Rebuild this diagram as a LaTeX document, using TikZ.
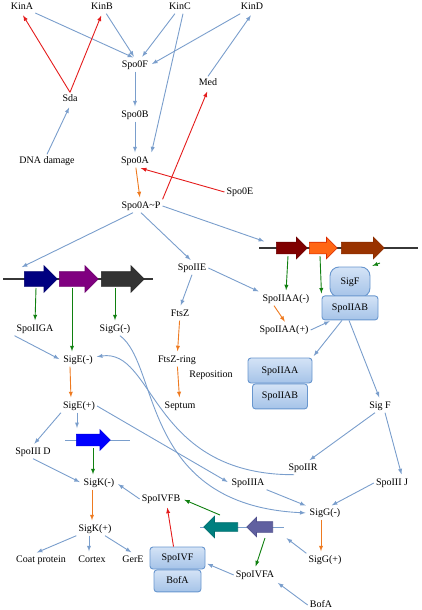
\documentclass[tikz,border=0pt]{standalone}
\usepackage{fontspec}
\setmainfont{Liberation Serif}
\usetikzlibrary{arrows,positioning,shapes.arrows}

\definecolor{pblue}{RGB}{122,158,204}
\definecolor{pgreen}{RGB}{16,128,16}
\definecolor{porange}{RGB}{238,122,32}
\definecolor{pred}{RGB}{228,28,28}
\definecolor{bline}{RGB}{104,150,206}
\definecolor{btop}{RGB}{212,227,246}
\definecolor{bbot}{RGB}{165,195,232}
\definecolor{dnaline}{RGB}{55,55,55}

\begin{document}
\begin{tikzpicture}[>=latex, shorten >=2pt, x=1pt, y=-1pt,
  lab/.style={inner sep=2pt, text height=7pt, text depth=2pt, font=\fontsize{10}{12}\selectfont},
  prot/.style={lab, draw=bline, line width=0.9pt, top color=btop, bottom color=bbot, rounded corners=3pt, inner sep=0pt},
  gene/.style={single arrow, single arrow head extend=5pt, inner xsep=0pt, inner ysep=5.5pt, minimum width=0pt, anchor=tail, line width=0.6pt},
  act/.style={->, color=pblue, line width=0.9pt},
  expr/.style={->, color=pgreen, line width=0.9pt},
  conv/.style={->, color=porange, line width=0.9pt},
  inhib/.style={->, color=pred, line width=0.9pt},
  strand/.style={draw=dnaline, line width=1.2pt}]
\useasboundingbox (0,0) rectangle (422,610);

% phosphorelay
\node[lab] (kinA)  at (22,7)    {KinA};
\node[lab] (kinB)  at (102,7)   {KinB};
\node[lab] (kinC)  at (180,7)   {KinC};
\node[lab] (kinD)  at (252,7)   {KinD};
\node[lab] (spoF)  at (135,65)  {Spo0F};
\node[lab] (sda)   at (70,99)   {Sda};
\node[lab] (med)   at (208,83)  {Med};
\node[lab] (spoB)  at (135,115) {Spo0B};
\node[lab] (dna)   at (47,161)  {DNA damage};
\node[lab] (spoA)  at (135,161) {Spo0A};
\node[lab] (spoE)  at (240,192) {Spo0E};
\node[lab] (spoAP) at (141,206) {Spo0A\textasciitilde P};

% operons
\draw[strand] (259,248) -- (420,248);
\node[gene, minimum height=31pt, fill={rgb,255:red,128;green,0;blue,0}, draw={rgb,255:red,110;green,0;blue,0}] (gR1) at (276,248) {};
\node[gene, minimum height=28pt, fill={rgb,255:red,255;green,102;blue,20}, draw={rgb,255:red,215;green,40;blue,0}] (gR2) at (309,248) {};
\node[gene, minimum height=43pt, fill={rgb,255:red,153;green,51;blue,0}, draw={rgb,255:red,140;green,45;blue,0}] (gR3) at (341,248) {};
\draw[strand] (3,279) -- (155,279);
\node[gene, minimum height=33pt, inner ysep=7pt, single arrow head extend=6pt, fill={rgb,255:red,0;green,0;blue,128}, draw={rgb,255:red,0;green,0;blue,110}] (gL1) at (24,279) {};
\node[gene, minimum height=39pt, inner ysep=7pt, single arrow head extend=6pt, fill={rgb,255:red,128;green,0;blue,128}, draw={rgb,255:red,110;green,0;blue,110}] (gL2) at (59,279) {};
\node[gene, minimum height=43pt, inner ysep=7pt, single arrow head extend=6pt, fill={rgb,255:red,51;green,51;blue,51}, draw={rgb,255:red,40;green,40;blue,40}] (gL3) at (101,279) {};

% middle
\node[lab] (iiE)   at (192,268) {SpoIIE};
\node[lab] (ftsZ)  at (180,314) {FtsZ};
\node[lab] (ring)  at (177,360) {FtsZ-ring};
\node[lab] (repo)  at (211,375) {Reposition};
\node[lab] (sept)  at (180,406) {Septum};
\node[lab] (aaM)   at (286,299) {SpoIIAA(-)};
\node[lab] (aaP)   at (284,330) {SpoIIAA(+)};
\node[prot, rounded corners=9pt, minimum width=40pt, minimum height=30pt] (fBox) at (350,282) {SigF};
\node[prot, minimum width=56pt, minimum height=24pt] (abBox) [below=-2pt of fBox] {SpoIIAB};
\node[prot, minimum width=64pt, minimum height=25pt] (aaLow) at (280,370.5) {SpoIIAA};
\node[prot, minimum width=55pt, minimum height=25pt] (abLow) [below=0pt of aaLow] {SpoIIAB};
\node[lab] (sigF)  at (380,406) {Sig F};
\node[lab] (iiGA)  at (35,329)  {SpoIIGA};
\node[lab] (gGm)   at (115,329) {SigG(-)};
\node[lab] (eM)    at (78,360)  {SigE(-)};
\node[lab] (eP)    at (79,406)  {SigE(+)};

% lower part
\draw[draw=pblue, line width=1pt] (65,440) -- (132,440);
\node[gene, minimum height=34pt, single arrow head extend=4.5pt, fill={rgb,255:red,0;green,0;blue,255}, draw={rgb,255:red,0;green,0;blue,230}] (gB) at (76,440) {};
\draw[draw=pblue, line width=1pt] (200,527) -- (286,527);
\node[gene, shape border rotate=180, minimum height=34pt, inner ysep=4pt, single arrow head extend=6.5pt, fill={rgb,255:red,0;green,128;blue,128}, draw={rgb,255:red,0;green,110;blue,110}] (gT) at (238,527) {};
\node[gene, shape border rotate=180, minimum height=26pt, inner ysep=5pt, single arrow head extend=4.5pt, fill={rgb,255:red,96;green,96;blue,160}, draw={rgb,255:red,80;green,80;blue,140}] (gS) at (273,527) {};
\node[lab] (iiiD)  at (33,452)  {SpoIII D};
\node[lab] (kM)    at (99,483)  {SigK(-)};
\node[lab] (ivfb)  at (161,499) {SpoIVFB};
\node[lab] (kP)    at (95,529)  {SigK(+)};
\node[lab] (coat)  at (41,560)  {Coat protein};
\node[lab] (cortex) at (92,560) {Cortex};
\node[lab] (gerE)  at (133,560) {GerE};
\node[prot, minimum width=55pt, minimum height=22pt] (ivfBox) at (177.5,558) {SpoIVF};
\node[prot, minimum width=47pt, minimum height=22pt] (bofBox) [below=0pt of ivfBox] {BofA};
\node[lab] (iiiA)  at (248,483) {SpoIIIA};
\node[lab] (iiR)   at (303,468) {SpoIIR};
\node[lab] (iiiJ)  at (392,483) {SpoIII J};
\node[lab] (gGb)   at (325,513) {SigG(-)};
\node[lab] (gP)    at (325,560) {SigG(+)};
\node[lab] (ivfa)  at (255,575) {SpoIVFA};
\node[lab] (bofA)  at (321,605) {BofA};

% activation
\path[act] (kinA) edge (spoF.north)
           (kinB) edge (spoF.north)
           (kinC) edge ([xshift=6pt]spoF.north)
           (kinD) edge (spoF.east)
           ([xshift=3pt]kinC.south) edge (spoA.north east)
           (dna.north) edge (sda.south)
           (spoF) edge (spoB)
           (spoB) edge (spoA)
           (med.north) edge (kinD.south)
           (spoAP.east) edge ([shift={(-10pt,6pt)}]gR1.tail)
           ([xshift=-8pt]spoAP.south) edge ([shift={(-4pt,11pt)}]gL1.tail)
           (spoAP.south) edge (iiE.north)
           (iiE.east) edge (aaM.north west)
           (iiE.south) edge (ftsZ.north)
           (aaP.east) edge ([xshift=10pt]abBox.south west)
           ([xshift=-8pt]abBox.south) edge (aaLow.north east)
           ([xshift=-1pt]abBox.south) edge (sigF.north)
           (iiGA.south west) edge (eM.west)
           (eP.south west) edge (iiiD.north)
           ([xshift=-2pt]eP.south) edge ([shift={(1pt,10pt)}]gB.tail)
           (eP.east) edge (iiiA.west)
           (iiiD.south) edge (kM.west)
           (ivfb.west) edge (kM.east)
           (kP.south west) edge ([xshift=-6pt]coat.north)
           ([xshift=-6pt]kP.south) edge ([xshift=-3pt]cortex.north)
           ([xshift=10pt]kP.south) edge (gerE.north)
           ([xshift=-5pt]sigF.south) edge ([xshift=5pt]iiR.north)
           ([xshift=5pt]sigF.south) edge ([xshift=10pt]iiiJ.north)
           (iiiA.south east) edge (gGb.north west)
           (iiiJ.west) edge ([xshift=5pt]gGb.north)
           (gP.north west) edge ([shift={(12pt,-10pt)}]gS.tail)
           (ivfa.west) edge ([yshift=-5pt]ivfBox.east)
           (bofA.west) edge (ivfa.south east);
\draw[act] ([xshift=5pt]gGm.south) .. controls (160,365) and (140,505) .. (gGb.west);
\draw[act] ([xshift=-9pt]iiR.south) .. controls (150,475) and (155,348) .. ([yshift=3pt]eM.east);

% inhibition
\path[inhib] (sda.north) edge (kinA.south)
             (sda.north) edge (kinB.south)
             (spoE.west) edge ([xshift=4pt]spoA.south)
             (spoAP.north east) edge (med.south)
             ([xshift=-4pt]ivfBox.north) edge ([xshift=6pt]ivfb.south);

% conversion
\path[conv] (spoA) edge (spoAP)
            ([xshift=-12pt]aaM.south) edge ([xshift=2pt]aaP.north)
            (ftsZ) edge (ring)
            (ring) edge (sept)
            ([xshift=-8pt]eM.south) edge ([xshift=-8pt]eP.north)
            ([xshift=-7pt]kM.south) edge ([xshift=-3pt]kP.north)
            ([xshift=-4pt]gGb.south) edge ([xshift=-4pt]gP.north);

% expression
\path[expr] ([shift={(12pt,-8pt)}]gR1.tail) edge (aaM.north)
            ([shift={(11pt,-8pt)}]gR2.tail) edge (abBox.north west)
            ([shift={(39pt,-15pt)}]gR3.tail) edge (fBox.north east)
            ([shift={(12pt,-9pt)}]gL1.tail) edge (iiGA.north)
            ([shift={(13pt,-9pt)}]gL2.tail) edge ([xshift=-6pt]eM.north)
            ([shift={(14pt,-9pt)}]gL3.tail) edge (gGm.north)
            ([shift={(17pt,-8pt)}]gB.tail) edge ([xshift=-6pt]kM.north)
            ([shift={(-18pt,12pt)}]gT.tail) edge (ivfb.east)
            ([shift={(-8pt,-11pt)}]gS.tail) edge (ivfa.north);
\end{tikzpicture}
\end{document}
